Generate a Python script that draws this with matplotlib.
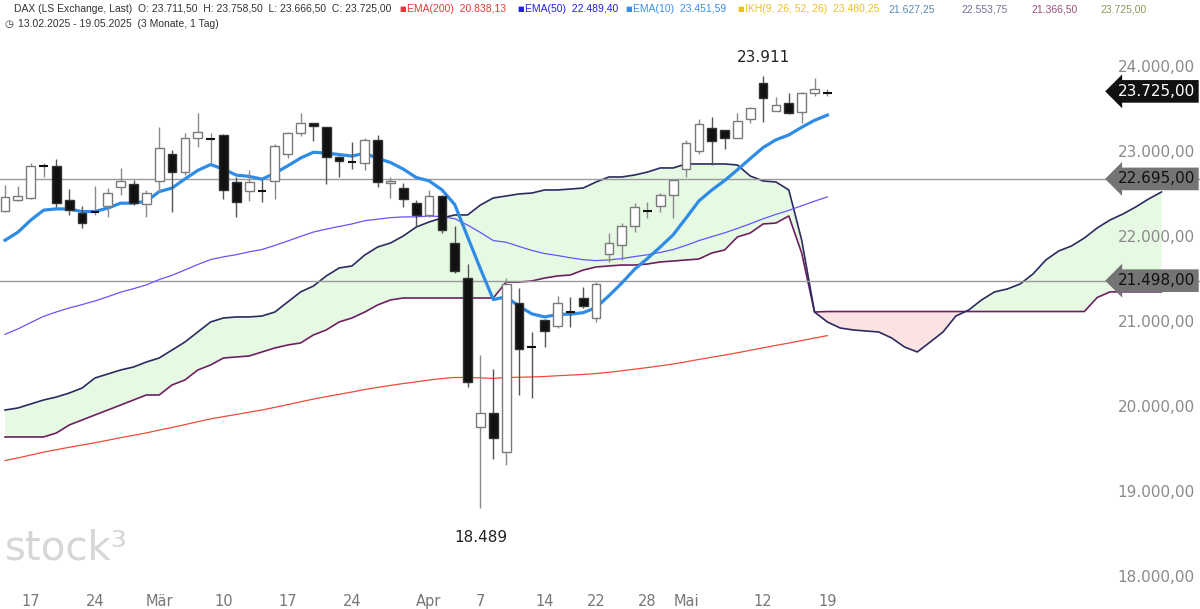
import matplotlib.pyplot as plt
import numpy as np

# DAX daily candles 13.02.2025 - 19.05.2025
opens = [22318, 22447, 22471, 22847, 22847, 22447, 22294, 22306, 22376, 22600,
         22635, 22400, 22671, 22988, 22776, 23176, 23164, 23212, 22659, 22553,
         22553, 22671, 22988, 23235, 23353, 23306, 22953, 22894, 22882, 23153,
         22647, 22588, 22412, 22270, 22494, 21941, 21529, 19776, 19941, 19482,
         21235, 20718, 21035, 20965, 21129, 21294, 21059, 21812, 21918, 22141,
         22318, 22376, 22506, 22812, 23024, 23294, 23271, 23176, 23400, 23824,
         23494, 23588, 23482, 23706, 23711.5]
highs = [22623, 22612, 22882, 22882, 22929, 22576, 22376, 22612, 22588, 22823,
         22682, 22565, 23306, 23035, 23235, 23471, 23235, 23224, 22718, 22800,
         22682, 23106, 23247, 23471, 23353, 23306, 22960, 23129, 23176, 23212,
         22718, 22647, 22447, 22565, 22506, 22141, 21694, 20624, 20459, 21529,
         21412, 20894, 21047, 21318, 21306, 21424, 21482, 22059, 22176, 22412,
         22424, 22529, 22682, 23153, 23400, 23424, 23271, 23471, 23541, 23911,
         23659, 23706, 23718, 23882, 23758.5]
lows = [22306, 22435, 22460, 22718, 22365, 22270, 22118, 22270, 22247, 22506,
        22388, 22247, 22541, 22306, 22741, 23071, 22882, 22459, 22247, 22435,
        22424, 22459, 22941, 23200, 23141, 22635, 22718, 22812, 22800, 22600,
        22471, 22365, 22130, 22247, 22060, 21588, 20247, 18822, 19400, 19329,
        20153, 20118, 20718, 20941, 20953, 21176, 21012, 21718, 21741, 22071,
        22235, 22306, 22235, 22718, 22988, 22859, 23047, 23176, 23353, 23365,
        23494, 23459, 23353, 23671, 23666.5]
closes = [22482, 22494, 22847, 22858, 22412, 22329, 22176, 22320, 22529, 22671,
          22412, 22529, 23059, 22776, 23176, 23247, 23176, 22565, 22424, 22659,
          22541, 23082, 23235, 23353, 23318, 22953, 22906, 22882, 23153, 22659,
          22671, 22459, 22270, 22494, 22094, 21612, 20306, 19941, 19647, 21459,
          20694, 20706, 20906, 21235, 21118, 21200, 21459, 21941, 22141, 22365,
          22328, 22506, 22682, 23118, 23341, 23141, 23176, 23376, 23529, 23647,
          23565, 23471, 23706, 23753, 23725]

# Ichimoku spans (shifted 26 bars ahead)
span_a = [19976, 20000, 20047, 20094, 20129, 20176, 20235, 20353, 20400, 20447,
          20482, 20541, 20588, 20682, 20776, 20894, 21012, 21059, 21071, 21071,
          21082, 21129, 21247, 21365, 21435, 21553, 21647, 21671, 21800, 21894,
          21941, 22024, 22129, 22188, 22235, 22271, 22271, 22388, 22471, 22494,
          22518, 22529, 22565, 22565, 22576, 22588, 22659, 22718, 22718, 22741,
          22776, 22824, 22824, 22871, 22871, 22871, 22871, 22859, 22729, 22671,
          22659, 22565, 21976, 21129, 21012, 20941, 20918, 20906, 20894, 20824,
          20718, 20659, 20776, 20894, 21082, 21153, 21271, 21365, 21400, 21459,
          21576, 21741, 21847, 21906, 22000, 22118, 22212, 22282, 22365, 22459,
          22541]
span_b = [19659, 19659, 19659, 19659, 19706, 19800, 19859, 19918, 19976, 20035,
          20094, 20153, 20153, 20271, 20329, 20447, 20506, 20588, 20600, 20612,
          20659, 20706, 20741, 20765, 20859, 20918, 21012, 21059, 21129, 21212,
          21271, 21294, 21294, 21294, 21294, 21294, 21294, 21294, 21294, 21482,
          21482, 21494, 21529, 21553, 21565, 21623, 21659, 21671, 21682, 21682,
          21694, 21718, 21729, 21741, 21753, 21823, 21859, 22012, 22059, 22165,
          22176, 22259, 21823, 21129, 21135, 21135, 21135, 21135, 21135, 21135,
          21135, 21135, 21135, 21135, 21135, 21135, 21135, 21135, 21135, 21135,
          21135, 21135, 21135, 21135, 21135, 21300, 21366, 21366, 21366, 21366,
          21366]

# EMA start values (from before the visible window)
ema_seeds = {10: 21860, 50: 20800, 200: 19350}

xtick_pos = [2, 7, 12, 17, 22, 27, 33, 37, 42, 46, 50, 53, 59, 64]
xtick_labels = ["17", "24", "Mär", "10", "17", "24", "Apr", "7", "14", "22", "28", "Mai", "12", "19"]
yticks = [18000, 19000, 20000, 21000, 22000, 23000, 24000]
levels = [22695, 21498]
last_price = 23725


def ema(values, n, seed):
    a = 2 / (n + 1)
    out, e = [], seed
    for v in values:
        e = e + a * (v - e)
        out.append(e)
    return out


def fmt(v):
    s = f"{v:,.2f}"
    return s.replace(",", "X").replace(".", ",").replace("X", ".")


fig = plt.figure(figsize=(12, 6.09), dpi=100)
ax = fig.add_axes([0, 0, 1, 1])
ax.set_xlim(-0.39, 93.0)
ax.set_ylim(17635, 24800)
ax.axis("off")

idx = np.arange(len(closes))
cidx = np.arange(len(span_a))
sa = np.array(span_a)
sb = np.array(span_b)

# Cloud
ax.fill_between(cidx, sa, sb, where=sa >= sb, color="#e5f9e3", interpolate=True, lw=0)
ax.fill_between(cidx, sa, sb, where=sa < sb, color="#fbe3e3", interpolate=True, lw=0)
ax.plot(cidx, span_b, color="#6d1f60", lw=1.2)
ax.plot(cidx, span_a, color="#2c2a60", lw=1.2)

# Horizontal levels
for lvl in levels:
    ax.axhline(lvl, color="#9a9a9a", lw=1)

# EMAs
ax.plot(idx, ema(closes, 200, ema_seeds[200]), color="#f04a3a", lw=0.9)
ax.plot(idx, ema(closes, 50, ema_seeds[50]), color="#6655ff", lw=0.9)
ax.plot(idx, ema(closes, 10, ema_seeds[10]), color="#2f8ce6", lw=2.3)

# Candles
w = 0.68
for i in idx:
    o, h, l, c = opens[i], highs[i], lows[i], closes[i]
    up = c >= o
    ax.vlines(i, l, h, color="#8a8a8a" if up else "#555555", lw=1, zorder=3)
    lo, hi = min(o, c), max(o, c)
    if hi - lo < 15:
        ax.hlines(o, i - w / 2, i + w / 2, color="#111111", lw=1.5, zorder=4)
        continue
    ax.add_patch(plt.Rectangle((i - w / 2, lo), w, hi - lo,
                               facecolor="white" if up else "#111111",
                               edgecolor="#7a7a7a" if up else "#333333", lw=1, zorder=4))

ax.text(59, 24030, "23.911", ha="center", va="bottom", fontsize=11, color="#222222")
ax.text(37, 18560, "18.489", ha="center", va="top", fontsize=11, color="#222222")

# Right axis labels
for t in yticks:
    ax.text(92.6, t, fmt(t), ha="right", va="center", fontsize=11, color="#8a8a8a")
for lvl in levels:
    ax.text(92.6, lvl, fmt(lvl), ha="right", va="center", fontsize=11, color="#111111",
            bbox=dict(boxstyle="larrow,pad=0.25", fc="#747474", ec="none"))
ax.text(92.6, last_price, fmt(last_price), ha="right", va="center", fontsize=11, color="white",
        bbox=dict(boxstyle="larrow,pad=0.25", fc="#111111", ec="none"))

# Date axis
for p, lab in zip(xtick_pos, xtick_labels):
    ax.text(p, 17720, lab, ha="center", va="center", fontsize=10.5, color="#777777")

# Watermark
ax.text(0.0, 18350, "stock³", ha="left", va="center", fontsize=29, color="#d6d6d6")

# Header
hf = dict(fontsize=7.5, family="Liberation Sans", ha="left", va="center")
hdr = [(14, "DAX (LS Exchange, Last)  O: 23.711,50  H: 23.758,50  L: 23.666,50  C: 23.725,00", "#333333"),
       (407, "EMA(200)  20.838,13", "#e53935"),
       (525, "EMA(50)  22.489,40", "#2323d8"),
       (633, "EMA(10)  23.451,59", "#3a8ee6"),
       (745, "IKH(9, 26, 52, 26)  23.480,25", "#f0c020"),
       (888, "21.627,25", "#5a8bb0"),
       (961, "22.553,75", "#7a6f9c"),
       (1031, "21.366,50", "#9a4f7c"),
       (1100, "23.725,00", "#8a9a5b")]
for x, s, col in hdr:
    fig.text(x / 1200, 1 - 9 / 609, s, color=col, **hf)
for x, col in [(399, "#e53935"), (517, "#2323d8"), (625, "#3a8ee6"), (737, "#f0c020")]:
    fig.text(x / 1200, 1 - 9 / 609, "■", ha="left", va="center", fontsize=5, color=col)
fig.text(18 / 1200, 1 - 24 / 609, "13.02.2025 - 19.05.2025  (3 Monate, 1 Tag)", color="#333333", **hf)
fig.text(4 / 1200, 1 - 24 / 609, "◷", ha="left", va="center", fontsize=7.5, color="#333333")

plt.savefig("out.png", dpi=100)
